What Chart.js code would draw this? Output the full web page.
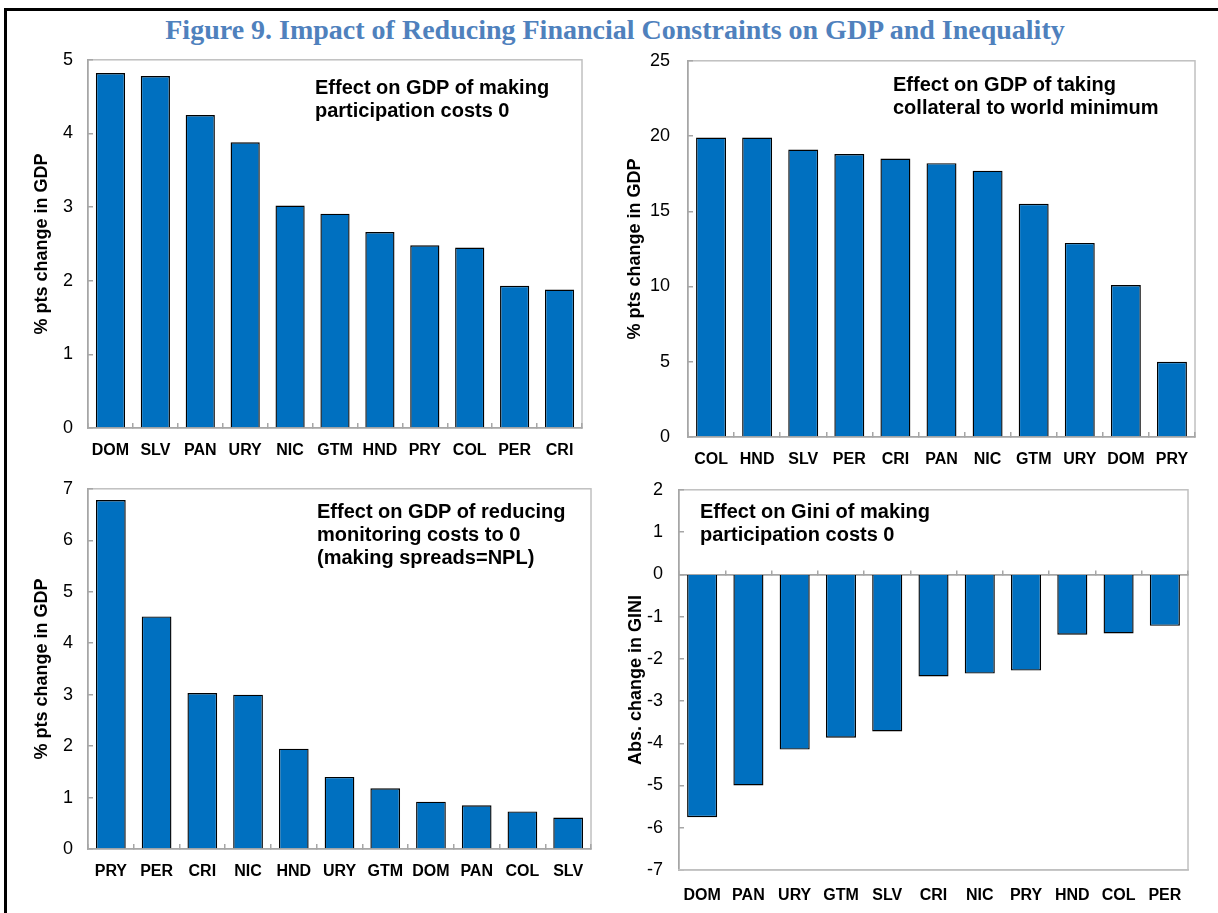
<!DOCTYPE html>
<html><head><meta charset="utf-8">
<script src="https://cdn.jsdelivr.net/npm/chart.js@4/dist/chart.umd.min.js"></script>
<style>
html,body{margin:0;padding:0;background:#fff;}
body{width:1218px;height:913px;position:relative;overflow:hidden;font-family:"Liberation Sans",Arial,sans-serif;}
#frame{position:absolute;left:4px;top:8px;width:1214px;height:905px;border-top:3px solid #000;border-left:3px solid #000;box-sizing:border-box;}
#title{position:absolute;left:0;width:1230px;top:14px;text-align:center;font-family:"Liberation Serif","Times New Roman",serif;font-weight:bold;font-size:28px;color:#4F81BD;line-height:32px;white-space:nowrap;}
.box{position:absolute;}
.note{position:absolute;font-weight:bold;font-size:20px;line-height:23px;color:#000;white-space:nowrap;}
</style></head>
<body>
<div id="frame"></div>
<div id="title">Figure 9. Impact of Reducing Financial Constraints on GDP and Inequality</div>
<canvas id="c1" class="box" width="579" height="439" style="left:18px;top:29px"></canvas>
<canvas id="c2" class="box" width="592" height="450" style="left:618px;top:27px"></canvas>
<canvas id="c3" class="box" width="588" height="431" style="left:18px;top:458px"></canvas>
<canvas id="c4" class="box" width="594" height="452" style="left:609px;top:458px"></canvas>
<div class="note" style="left:315px;top:76px">Effect on GDP of making<br>participation costs 0</div>
<div class="note" style="left:893px;top:73px">Effect on GDP of taking<br>collateral to world minimum</div>
<div class="note" style="left:317px;top:500px">Effect on GDP of reducing<br>monitoring costs to 0<br>(making spreads=NPL)</div>
<div class="note" style="left:700px;top:500px">Effect on Gini of making<br>participation costs 0</div>
<script>
// ---- data ----
const catsParticipation = ['DOM','SLV','PAN','URY','NIC','GTM','HND','PRY','COL','PER','CRI'];
const gdpParticipation  = [4.82, 4.78, 4.25, 3.88, 3.02, 2.91, 2.66, 2.48, 2.45, 1.93, 1.88];

const catsCollateral = ['COL','HND','SLV','PER','CRI','PAN','NIC','GTM','URY','DOM','PRY'];
const gdpCollateral  = [19.9, 19.9, 19.1, 18.8, 18.5, 18.2, 17.7, 15.5, 12.9, 10.1, 5.0];

const catsMonitoring = ['PRY','PER','CRI','NIC','HND','URY','GTM','DOM','PAN','COL','SLV'];
const gdpMonitoring  = [6.78, 4.52, 3.03, 3.0, 1.95, 1.4, 1.18, 0.92, 0.85, 0.73, 0.61];

const catsGini = ['DOM','PAN','URY','GTM','SLV','CRI','NIC','PRY','HND','COL','PER'];
const giniParticipation = [-5.75, -5.0, -4.15, -3.87, -3.72, -2.42, -2.35, -2.28, -1.43, -1.4, -1.22];

const yTitleGDP = '% pts change in GDP';
const yTitleGini = 'Abs. change in GINI';

// ---- style ----
Chart.defaults.font.family = '"Liberation Sans", Arial, sans-serif';
Chart.defaults.color = '#000';
const AXIS = '#A6A6A6';
const FRAME = '#C0C0C0';

const framePlugin = {
  id: 'frame',
  beforeDraw(chart) {
    const {ctx, chartArea: a} = chart;
    ctx.save();
    ctx.strokeStyle = FRAME;
    ctx.lineWidth = 1.5;
    ctx.strokeRect(a.left, a.top, a.right - a.left, a.bottom - a.top);
    ctx.restore();
  }
};

function panel(id, labels, values, o) {
  const scales = {
    y: {
      min: o.min, max: o.max,
      ticks: {stepSize: o.step, padding: o.tickPad, font: {size: 18}},
      grid: {display: true, drawOnChartArea: !!o.zeroLine, drawTicks: true, tickLength: -5,
             color: (c) => (o.zeroLine && c.tick && c.tick.value === 0) ? AXIS : 'rgba(0,0,0,0)',
             tickColor: AXIS, lineWidth: 1.5},
      border: {display: true, color: AXIS, width: 1.5},
      title: {display: true, text: o.yTitle, font: {size: 18, weight: 'bold'}, padding: {top: o.titlePad, bottom: 0}},
      afterFit(s) { s.width = 70; }
    }
  };
  if (o.zeroLine) {
    scales.x = {
      position: {y: 0},
      ticks: {display: false},
      grid: {display: true, drawOnChartArea: false, drawTicks: true, tickLength: -5, color: AXIS, lineWidth: 1.5},
      border: {display: true, color: AXIS, width: 1.5},
      afterFit(s) { s.height = 0; }
    };
    scales.x2 = {
      type: 'category', position: 'bottom', labels: labels,
      ticks: {padding: o.xPad, font: {size: 16, weight: 'bold'}, maxRotation: 0, autoSkip: false},
      grid: {display: false, drawTicks: false},
      border: {display: true, color: FRAME, width: 1.5},
      afterFit(s) { s.height = 40; }
    };
  } else {
    scales.x = {
      ticks: {padding: o.xPad, font: {size: 16, weight: 'bold'}, maxRotation: 0, autoSkip: false},
      grid: {display: true, drawOnChartArea: false, drawTicks: true, tickLength: -5, color: AXIS, lineWidth: 1.5},
      border: {display: true, color: AXIS, width: 1.5},
      afterFit(s) { s.height = 40; }
    };
  }
  return new Chart(document.getElementById(id), {
    type: 'bar',
    data: {labels: labels, datasets: [{data: values, backgroundColor: '#0070C0', borderColor: '#000', borderWidth: 1.4,
      barPercentage: 0.65, categoryPercentage: 1.0, xAxisID: 'x'}]},
    options: {
      responsive: false, animation: false,
      layout: {padding: {top: 15, right: 15, bottom: 0, left: 0}},
      plugins: {legend: {display: false}, tooltip: {enabled: false}, title: {display: false}},
      scales: scales
    },
    plugins: [framePlugin]
  });
}

panel('c1', catsParticipation, gdpParticipation, {min: 0, max: 5, step: 1, tickPad: 20, titlePad: 13, xPad: 18, yTitle: yTitleGDP});
panel('c2', catsCollateral, gdpCollateral, {min: 0, max: 25, step: 5, tickPad: 23, titlePad: 6, xPad: 18, yTitle: yTitleGDP});
panel('c3', catsMonitoring, gdpMonitoring, {min: 0, max: 7, step: 1, tickPad: 20, titlePad: 13, xPad: 18, yTitle: yTitleGDP});
panel('c4', catsGini, giniParticipation, {min: -7, max: 2, step: 1, tickPad: 21, titlePad: 16, xPad: 16, yTitle: yTitleGini, zeroLine: true});
</script>
</body></html>
